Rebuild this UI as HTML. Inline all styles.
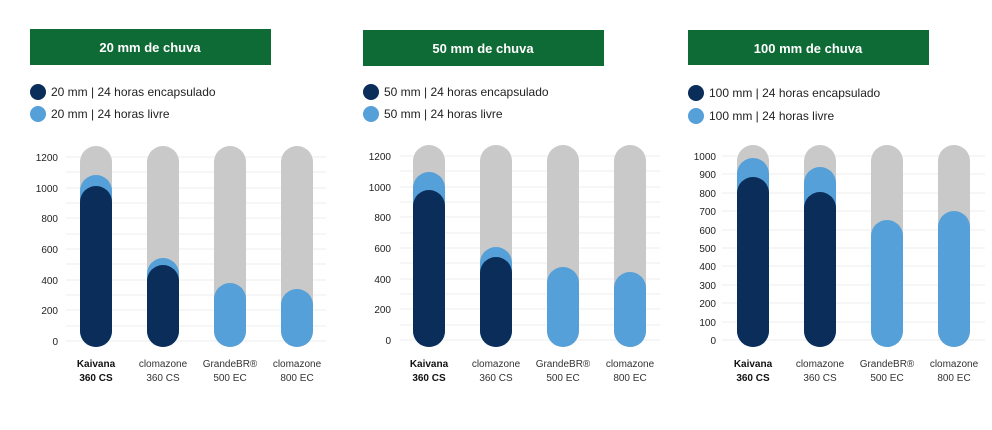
<!DOCTYPE html>
<html><head><meta charset="utf-8"><style>
html,body{margin:0;padding:0;background:#fff;}
svg text{font-family:"Liberation Sans",sans-serif;}
</style></head><body>
<svg width="992" height="425" xmlns="http://www.w3.org/2000/svg">
<rect width="992" height="425" fill="#fff"/>
<!-- headers -->
<rect x="30" y="29" width="241" height="36" fill="#0e6b35"/>
<text x="150" y="52" font-size="13" font-weight="bold" fill="#fff" text-anchor="middle">20 mm de chuva</text>
<rect x="363" y="30" width="241" height="36" fill="#0e6b35"/>
<text x="483" y="53" font-size="13" font-weight="bold" fill="#fff" text-anchor="middle">50 mm de chuva</text>
<rect x="688" y="30" width="241" height="35" fill="#0e6b35"/>
<text x="808" y="53" font-size="13" font-weight="bold" fill="#fff" text-anchor="middle">100 mm de chuva</text>
<!-- legends -->
<g font-size="12" fill="#222">
<circle cx="38" cy="92" r="8" fill="#0b2d5a"/><text x="51" y="96">20 mm | 24 horas encapsulado</text>
<circle cx="38" cy="114" r="8" fill="#55a0d8"/><text x="51" y="118">20 mm | 24 horas livre</text>
<circle cx="371" cy="92" r="8" fill="#0b2d5a"/><text x="384" y="96">50 mm | 24 horas encapsulado</text>
<circle cx="371" cy="114" r="8" fill="#55a0d8"/><text x="384" y="118">50 mm | 24 horas livre</text>
<circle cx="696" cy="93" r="8" fill="#0b2d5a"/><text x="709" y="97">100 mm | 24 horas encapsulado</text>
<circle cx="696" cy="116" r="8" fill="#55a0d8"/><text x="709" y="120">100 mm | 24 horas livre</text>
</g>
<!-- grids & y labels -->
<g stroke="#eeeeee" stroke-width="1">
<line x1="66" x2="326" y1="157" y2="157"/><line x1="66" x2="326" y1="172" y2="172"/><line x1="66" x2="326" y1="188" y2="188"/><line x1="66" x2="326" y1="203" y2="203"/><line x1="66" x2="326" y1="218" y2="218"/><line x1="66" x2="326" y1="234" y2="234"/><line x1="66" x2="326" y1="249" y2="249"/><line x1="66" x2="326" y1="264" y2="264"/><line x1="66" x2="326" y1="280" y2="280"/><line x1="66" x2="326" y1="295" y2="295"/><line x1="66" x2="326" y1="310" y2="310"/><line x1="66" x2="326" y1="326" y2="326"/><line x1="66" x2="326" y1="341" y2="341"/>
<line x1="400" x2="660" y1="156" y2="156"/><line x1="400" x2="660" y1="171" y2="171"/><line x1="400" x2="660" y1="187" y2="187"/><line x1="400" x2="660" y1="202" y2="202"/><line x1="400" x2="660" y1="217" y2="217"/><line x1="400" x2="660" y1="233" y2="233"/><line x1="400" x2="660" y1="248" y2="248"/><line x1="400" x2="660" y1="263" y2="263"/><line x1="400" x2="660" y1="279" y2="279"/><line x1="400" x2="660" y1="294" y2="294"/><line x1="400" x2="660" y1="309" y2="309"/><line x1="400" x2="660" y1="325" y2="325"/><line x1="400" x2="660" y1="340" y2="340"/>
<line x1="722" x2="985" y1="156" y2="156"/><line x1="722" x2="985" y1="174" y2="174"/><line x1="722" x2="985" y1="193" y2="193"/><line x1="722" x2="985" y1="211" y2="211"/><line x1="722" x2="985" y1="230" y2="230"/><line x1="722" x2="985" y1="248" y2="248"/><line x1="722" x2="985" y1="266" y2="266"/><line x1="722" x2="985" y1="285" y2="285"/><line x1="722" x2="985" y1="303" y2="303"/><line x1="722" x2="985" y1="322" y2="322"/><line x1="722" x2="985" y1="340" y2="340"/>
</g>
<g font-size="10" fill="#222" text-anchor="end">
<text x="58" y="161">1200</text><text x="58" y="192">1000</text><text x="58" y="222">800</text><text x="58" y="253">600</text><text x="58" y="284">400</text><text x="58" y="314">200</text><text x="58" y="345">0</text>
<text x="391" y="160">1200</text><text x="391" y="191">1000</text><text x="391" y="221">800</text><text x="391" y="252">600</text><text x="391" y="283">400</text><text x="391" y="313">200</text><text x="391" y="344">0</text>
<text x="716" y="160">1000</text><text x="716" y="178">900</text><text x="716" y="197">800</text><text x="716" y="215">700</text><text x="716" y="234">600</text><text x="716" y="252">500</text><text x="716" y="270">400</text><text x="716" y="289">300</text><text x="716" y="307">200</text><text x="716" y="326">100</text><text x="716" y="344">0</text>
</g>
<!-- bars -->
<g>
<!-- panel 1 -->
<rect x="80" y="146" width="32" height="201" rx="16" fill="#c9c9c9"/>
<rect x="80" y="175" width="32" height="172" rx="16" fill="#55a0d8"/>
<rect x="80" y="186" width="32" height="161" rx="16" fill="#0b2d5a"/>
<rect x="147" y="146" width="32" height="201" rx="16" fill="#c9c9c9"/>
<rect x="147" y="258" width="32" height="89" rx="16" fill="#55a0d8"/>
<rect x="147" y="265" width="32" height="82" rx="16" fill="#0b2d5a"/>
<rect x="214" y="146" width="32" height="201" rx="16" fill="#c9c9c9"/>
<rect x="214" y="283" width="32" height="64" rx="16" fill="#55a0d8"/>
<rect x="281" y="146" width="32" height="201" rx="16" fill="#c9c9c9"/>
<rect x="281" y="289" width="32" height="58" rx="16" fill="#55a0d8"/>
<!-- panel 2 -->
<rect x="413" y="145" width="32" height="202" rx="16" fill="#c9c9c9"/>
<rect x="413" y="172" width="32" height="175" rx="16" fill="#55a0d8"/>
<rect x="413" y="190" width="32" height="157" rx="16" fill="#0b2d5a"/>
<rect x="480" y="145" width="32" height="202" rx="16" fill="#c9c9c9"/>
<rect x="480" y="247" width="32" height="100" rx="16" fill="#55a0d8"/>
<rect x="480" y="257" width="32" height="90" rx="16" fill="#0b2d5a"/>
<rect x="547" y="145" width="32" height="202" rx="16" fill="#c9c9c9"/>
<rect x="547" y="267" width="32" height="80" rx="16" fill="#55a0d8"/>
<rect x="614" y="145" width="32" height="202" rx="16" fill="#c9c9c9"/>
<rect x="614" y="272" width="32" height="75" rx="16" fill="#55a0d8"/>
<!-- panel 3 -->
<rect x="737" y="145" width="32" height="202" rx="16" fill="#c9c9c9"/>
<rect x="737" y="158" width="32" height="189" rx="16" fill="#55a0d8"/>
<rect x="737" y="177" width="32" height="170" rx="16" fill="#0b2d5a"/>
<rect x="804" y="145" width="32" height="202" rx="16" fill="#c9c9c9"/>
<rect x="804" y="167" width="32" height="180" rx="16" fill="#55a0d8"/>
<rect x="804" y="192" width="32" height="155" rx="16" fill="#0b2d5a"/>
<rect x="871" y="145" width="32" height="202" rx="16" fill="#c9c9c9"/>
<rect x="871" y="220" width="32" height="127" rx="16" fill="#55a0d8"/>
<rect x="938" y="145" width="32" height="202" rx="16" fill="#c9c9c9"/>
<rect x="938" y="211" width="32" height="136" rx="16" fill="#55a0d8"/>
</g>
<!-- x labels -->
<g font-size="10" fill="#333" text-anchor="middle">
<text x="96" y="367" font-weight="bold" fill="#111">Kaivana</text><text x="96" y="381" font-weight="bold" fill="#111">360 CS</text>
<text x="163" y="367">clomazone</text><text x="163" y="381">360 CS</text>
<text x="230" y="367">GrandeBR®</text><text x="230" y="381">500 EC</text>
<text x="297" y="367">clomazone</text><text x="297" y="381">800 EC</text>
<text x="429" y="367" font-weight="bold" fill="#111">Kaivana</text><text x="429" y="381" font-weight="bold" fill="#111">360 CS</text>
<text x="496" y="367">clomazone</text><text x="496" y="381">360 CS</text>
<text x="563" y="367">GrandeBR®</text><text x="563" y="381">500 EC</text>
<text x="630" y="367">clomazone</text><text x="630" y="381">800 EC</text>
<text x="753" y="367" font-weight="bold" fill="#111">Kaivana</text><text x="753" y="381" font-weight="bold" fill="#111">360 CS</text>
<text x="820" y="367">clomazone</text><text x="820" y="381">360 CS</text>
<text x="887" y="367">GrandeBR®</text><text x="887" y="381">500 EC</text>
<text x="954" y="367">clomazone</text><text x="954" y="381">800 EC</text>
</g>
</svg>
</body></html>
